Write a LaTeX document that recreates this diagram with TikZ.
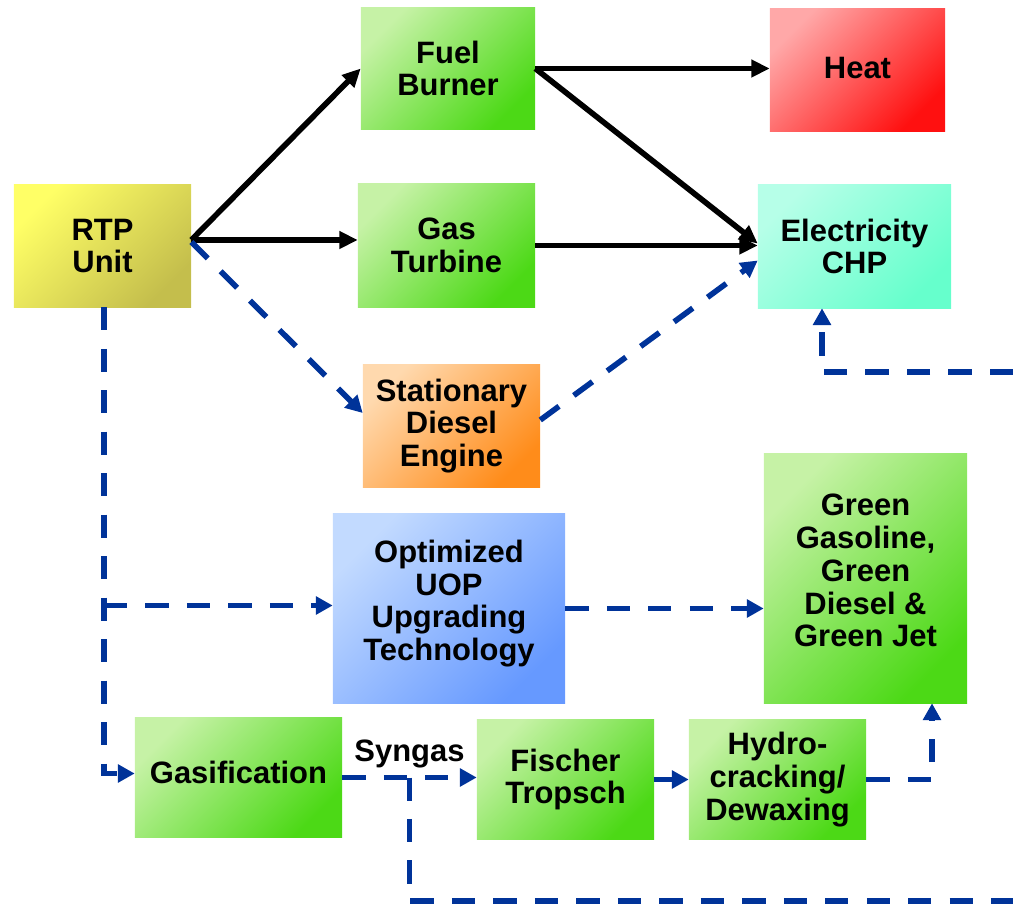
\documentclass[tikz,border=0pt]{standalone}
\usepackage{fontspec}
\setmainfont{Liberation Sans}
\usetikzlibrary{arrows.meta, calc}

\definecolor{greenA}{HTML}{C6F2A6}
\definecolor{greenB}{HTML}{4CD916}
\definecolor{yellowA}{HTML}{FFFF66}
\definecolor{yellowB}{HTML}{C4BE4C}
\definecolor{redA}{HTML}{FFA8A8}
\definecolor{redB}{HTML}{FF1010}
\definecolor{cyanA}{HTML}{B6FFE8}
\definecolor{cyanB}{HTML}{66FFCC}
\definecolor{orangeA}{HTML}{FFD9AE}
\definecolor{orangeB}{HTML}{FF8C1A}
\definecolor{blueA}{HTML}{C2DAFF}
\definecolor{blueB}{HTML}{6699FF}
\definecolor{flowblue}{HTML}{003399}

\begin{document}
\begin{tikzpicture}[
    x=0.025cm, y=-0.025cm,
    every node/.style={font=\fontsize{22}{23.3}\selectfont\bfseries},
    box/.style={align=center, inner sep=0pt, minimum width=4.425cm, minimum height=3.05cm},
    shadebox/.style 2 args={box, top color=#1, bottom color=#2, shading angle=45},
    greenbox/.style={shadebox={greenA}{greenB}},
    solidarrow/.style={-{Triangle[length=13pt, width=12pt]}, line width=4pt, black},
    dasharrow/.style={-{Triangle[length=12pt, width=12.5pt]}, line width=4pt, flowblue,
        dash pattern=on 16.5pt off 13pt},
    dashline/.style={line width=4pt, flowblue, dash pattern=on 16.5pt off 13pt},
]
\useasboundingbox (0,0) rectangle (1013,905);

% ===== BOXES =====
\node[shadebox={yellowA}{yellowB}] (rtp) at (102.5,246) {RTP\\Unit};
\node[greenbox, minimum width=4.35cm, minimum height=3.025cm] (burner) at (448,68.5) {Fuel\\Burner};
\node[shadebox={redA}{redB}, minimum width=4.375cm, text depth=3pt] (heat) at (857.5,70) {Heat};
\node[greenbox, minimum height=3.075cm] (turbine) at (446.5,245.5) {Gas\\Turbine};
\node[shadebox={cyanA}{cyanB}, minimum width=4.825cm, minimum height=3.075cm] (elec) at (854.5,246.5) {Electricity\\CHP};
\node[shadebox={orangeA}{orangeB}] (diesel) at (451.5,426) {Stationary\\Diesel\\Engine};
\node[shadebox={blueA}{blueB}, minimum width=5.8cm, minimum height=4.725cm, text depth=11.6pt] (uop) at (449,608.5)
    {Optimized\\UOP\\Upgrading\\Technology};
\node[greenbox, minimum width=5.075cm, minimum height=6.225cm, text depth=11.4pt] (fuels) at (865.5,578.5)
    {Green\\Gasoline,\\Green\\Diesel \&\\Green Jet};
\node[greenbox, minimum width=5.175cm, minimum height=2.975cm, text depth=7pt] (gasif) at (238.5,777.5) {Gasification};
\node[greenbox, minimum height=2.975cm] (ft) at (565.5,779.5) {Fischer\\Tropsch};
\node[greenbox, minimum height=2.975cm] (hydro) at (777.5,779.5) {Hydro-\\cracking/\\Dewaxing};

% free ends at the right edge
\coordinate (edgeA) at (1013,372);
\coordinate (edgeB) at (1013,901);

% ===== SOLID ARROWS =====
\draw[solidarrow] ($(rtp.east)+(0,-6)$) -- (burner.west);
\draw[solidarrow] ($(rtp.east)+(0,-6)$) -- ($(turbine.west)+(0,-5.5)$);
\draw[solidarrow] (burner.east) -- (burner.east -| heat.west);
\draw[solidarrow] (burner.east) -- ($(elec.west)+(0,-3)$);
\draw[solidarrow] (turbine.east) -- (turbine.east -| elec.west);

% ===== DASHED ARROWS =====
\draw[dasharrow] ($(rtp.east)+(0,-4)$) -- ($(diesel.west)+(0,-13)$);
\draw[dasharrow] ($(diesel.east)+(0,-6)$) -- ($(elec.west)+(0,14)$);
\draw[dasharrow] (edgeA) -| ($(elec.south)+(-32.5,0)$);
\draw[dasharrow] ($(rtp.south)+(1.5,0)$) |- ($(gasif.west)+(0,-4)$);
\draw[dasharrow] ($(rtp.south |- uop.west)+(1.5,-3)$) -- ($(uop.west)+(0,-3)$);
\draw[dasharrow] (uop.east) -- (uop.east -| fuels.west);
\draw[dasharrow] (gasif.east) -- node[above, inner sep=5pt, text=black] {Syngas} (gasif.east -| ft.west);
\coordinate (syn) at ($(gasif.east)!0.5!(gasif.east -| ft.west)$);
\draw[dashline] (syn) |- (edgeB);
\draw[dasharrow] (ft.east) -- (ft.east -| hydro.west);
\draw[dasharrow] (hydro.east) -| ($(fuels.south)+(66.5,0)$);
\end{tikzpicture}
\end{document}
